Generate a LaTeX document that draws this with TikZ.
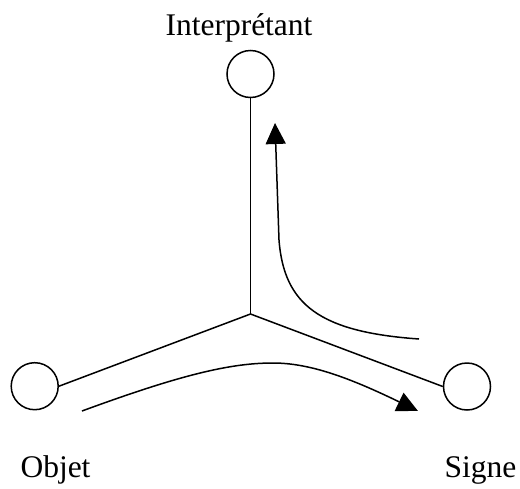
\documentclass[tikz,border=0pt]{standalone}
\usepackage{fontspec}
\setmainfont{Liberation Serif}
\usetikzlibrary{arrows.meta}
\begin{document}
\begin{tikzpicture}[x=1pt,y=-1pt,
  pole/.style={circle,draw,line width=1.5pt,minimum size=47pt,inner sep=0pt},
  edge/.style={line width=1.5pt},
  flow/.style={line width=1.5pt,-{Triangle[length=21pt,width=20pt]}},
  lbl/.style={anchor=base,inner sep=0pt,font=\fontsize{31.5}{36}\selectfont}]
\useasboundingbox (0,0) rectangle (520,488);
\node[pole] (I) at (250.5,74) {};
\node[pole] (O) at (34.7,386.2) {};
\node[pole] (S) at (467,386.5) {};
\coordinate (J) at (250.5,314);
\draw[edge] (I.south) -- (J);
\draw[edge] (J) -- (O.east);
\draw[edge] (J) -- (S.west);
\coordinate (a1) at (419,339);
\coordinate (a2) at (279,240);
\coordinate (a3) at (275,123);
\draw[flow] (a1) .. controls (320,332) and (284,305) .. (a2) -- (a3);
\coordinate (b1) at (82,411);
\coordinate (b2) at (273,363);
\coordinate (b3) at (418,411);
\draw[flow] (b1) .. controls (180,375) and (230,363) .. (b2) .. controls (310,363) and (350,378) .. (b3);
\node[lbl] (tI) at (239,35) {Interprétant};
\node[lbl] (tO) at (55.5,477) {Objet};
\node[lbl] (tS) at (480.5,477) {Signe};
\end{tikzpicture}
\end{document}
